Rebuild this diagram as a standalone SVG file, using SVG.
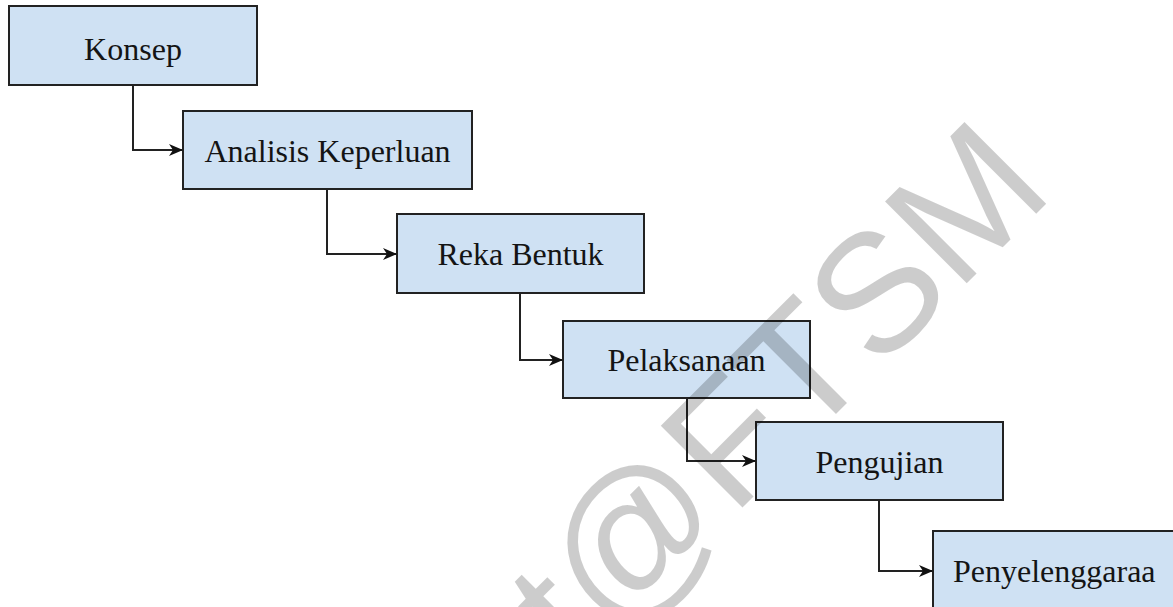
<svg xmlns="http://www.w3.org/2000/svg" width="1173" height="607" viewBox="0 0 1173 607">
  <style>
    .box { fill: #cfe1f3; stroke: #222; stroke-width: 2; }
    .lbl { font-family: "Liberation Serif", "Times New Roman", serif; font-size: 32px; fill: #141414; text-anchor: middle; }
    .conn { fill: none; stroke: #222; stroke-width: 2; }
    .wm { font-family: "Liberation Sans", Arial, sans-serif; font-size: 168px; fill: #000; fill-opacity: 0.2; text-anchor: end; }
  </style>
  <defs>
    <marker id="arrow" markerUnits="userSpaceOnUse" markerWidth="15" markerHeight="13" refX="14" refY="6" orient="auto">
      <path d="M0,0 L14,6 L0,12 L4,6 z" fill="#111"/>
    </marker>
  </defs>
  <rect width="1173" height="607" fill="#fff"/>

  <g id="node-konsep">
    <rect class="box" x="9" y="6" width="248" height="79"/>
    <text class="lbl" x="133" y="60">Konsep</text>
  </g>
  <g id="node-analisis">
    <rect class="box" x="183" y="111" width="289" height="78"/>
    <text class="lbl" x="327.5" y="162">Analisis Keperluan</text>
  </g>
  <g id="node-reka">
    <rect class="box" x="397" y="214" width="247" height="79"/>
    <text class="lbl" x="520.5" y="265">Reka Bentuk</text>
  </g>
  <g id="node-pelaksanaan">
    <rect class="box" x="563" y="321" width="247" height="77"/>
    <text class="lbl" x="686.5" y="371">Pelaksanaan</text>
  </g>
  <g id="node-pengujian">
    <rect class="box" x="756" y="422" width="247" height="78"/>
    <text class="lbl" x="879.5" y="473">Pengujian</text>
  </g>
  <g id="node-penyelenggaraan">
    <rect class="box" x="933" y="531" width="260" height="90"/>
    <text class="lbl" x="953" y="582" style="text-anchor:start">Penyelenggaraa</text>
  </g>

  <g id="connectors">
    <path class="conn" d="M133,85 V150 H183" marker-end="url(#arrow)"/>
    <path class="conn" d="M327,189 V254 H397" marker-end="url(#arrow)"/>
    <path class="conn" d="M520,293 V360 H563" marker-end="url(#arrow)"/>
    <path class="conn" d="M687,398 V461 H756" marker-end="url(#arrow)"/>
    <path class="conn" d="M879,500 V571 H933" marker-end="url(#arrow)"/>
  </g>

  <g id="watermark">
    <text class="wm" transform="translate(1056,194) rotate(-45)" x="0" y="0">t@FTSM</text>
  </g>
</svg>
